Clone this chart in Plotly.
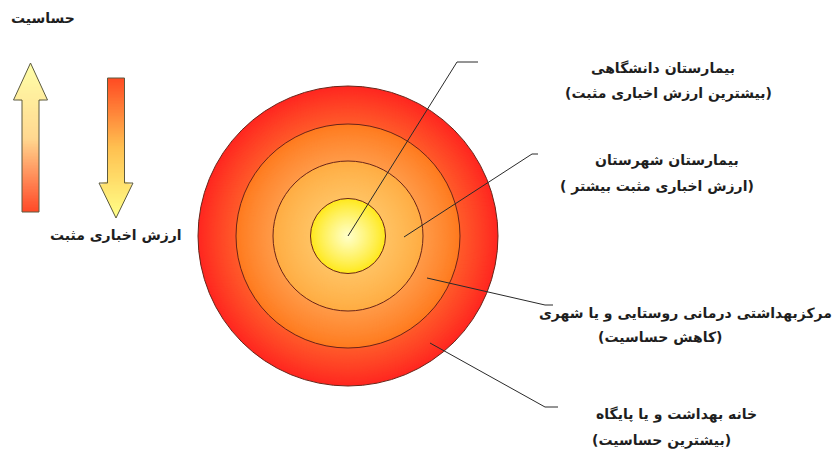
import plotly.graph_objects as go

# ---------------- data ----------------
ring_levels = ["خانه بهداشت و یا پایگاه", "مرکزبهداشتی درمانی روستایی و یا شهری",
               "بیمارستان شهرستان", "بیمارستان دانشگاهی"]
ring_titles = ["خانه بهداشت و یا پایگاه", "مرکزبهداشتی درمانی روستایی و یا شهری",
               "بیمارستان شهرستان", "بیمارستان دانشگاهی"]
ring_subtitles = ["(بیشترین حساسیت)", "(کاهش حساسیت)",
                  "(ارزش اخباری مثبت بیشتر )", "(بیشترین ارزش اخباری مثبت)"]
arrow_labels = ["حساسیت", "ارزش اخباری مثبت"]

# ---------------- geometry / style ----------------
W, H = 833, 450
cx, cy = 348, 236
ring_r = [150, 112, 75, 37.5]
ring_edge = ["#FF2620", "#FF7A1E", "#FFAC42", "#FFE81C"]
ring_inner = ["#FF5A2A", "#FF9A48", "#FFC262", "#FFFFC8"]
ring_line = "#6A2418"

title_pos = [(676, 414), (685, 313), (667, 160), (663, 68)]
sub_pos = [(661, 440), (660, 337), (657, 186), (668, 93)]
leader = [
    [(430, 343), (545, 407), (558, 407)],
    [(427, 278), (545, 305), (553, 305)],
    [(404, 237), (532, 154), (538, 154)],
    [(348, 236), (457, 62), (478, 62)],
]


def hex2rgb(h):
    h = h.lstrip("#")
    return tuple(int(h[i:i + 2], 16) for i in (0, 2, 4))


def mix(c1, c2, t):
    a, b = hex2rgb(c1), hex2rgb(c2)
    return "rgb(%d,%d,%d)" % tuple(round(a[i] + (b[i] - a[i]) * t) for i in range(3))


shapes = []

# gradient rings
for i, R in enumerate(ring_r):
    r_in = ring_r[i + 1] if i + 1 < len(ring_r) else 0
    n = 40
    for k in range(n):
        t = k / (n - 1)
        r = R - (R - r_in) * k / n
        shapes.append(dict(type="circle", xref="x", yref="y",
                           x0=cx - r, x1=cx + r, y0=cy - r, y1=cy + r,
                           fillcolor=mix(ring_edge[i], ring_inner[i], t ** 0.9),
                           line=dict(width=0), layer="above"))
for R in ring_r:
    shapes.append(dict(type="circle", xref="x", yref="y",
                       x0=cx - R, x1=cx + R, y0=cy - R, y1=cy + R,
                       fillcolor="rgba(0,0,0,0)",
                       line=dict(color=ring_line, width=1), layer="above"))


# gradient arrows
def arrow(xc, shaft_half, head_half, y_tip, y_head, y_end, c_tip, c_mid, c_end):
    d = 1 if y_end > y_tip else -1
    total = abs(y_end - y_tip)
    step = 1.5
    n = int(total / step) + 1
    for k in range(n):
        ya = y_tip + d * k * step
        yb = min(ya + d * (step + 0.6), y_end) if d > 0 else max(ya + d * (step + 0.6), y_end)

        def half(y):
            if abs(y - y_tip) <= abs(y_head - y_tip):
                return head_half * abs(y - y_tip) / abs(y_head - y_tip)
            return shaft_half
        t = k / max(n - 1, 1)
        col = mix(c_tip, c_mid, t / 0.5) if t < 0.5 else mix(c_mid, c_end, (t - 0.5) / 0.5)
        ha, hb = half(ya), half(yb)
        path = "M %.2f %.2f L %.2f %.2f L %.2f %.2f L %.2f %.2f Z" % (
            xc - ha, ya, xc + ha, ya, xc + hb, yb, xc - hb, yb)
        shapes.append(dict(type="path", xref="x", yref="y", path=path,
                           fillcolor=col, line=dict(width=0), layer="above"))
    outline = "M %.2f %.2f L %.2f %.2f L %.2f %.2f L %.2f %.2f L %.2f %.2f L %.2f %.2f L %.2f %.2f Z" % (
        xc, y_tip, xc + head_half, y_head, xc + shaft_half, y_head, xc + shaft_half, y_end,
        xc - shaft_half, y_end, xc - shaft_half, y_head, xc - head_half, y_head)
    shapes.append(dict(type="path", xref="x", yref="y", path=outline,
                       fillcolor="rgba(0,0,0,0)", line=dict(color="#5C5A40", width=1),
                       layer="above"))


# up arrow (yellow tip -> red bottom)
arrow(30.5, 8.5, 17, 63, 100, 212, "#FFFFA8", "#FFD890", "#FF4826")
# down arrow (yellow tip at bottom, red top)
arrow(116, 8.5, 17, 218, 183, 78, "#FFFF88", "#FFC050", "#FF4A22")

# leader lines
for pts in leader:
    p = "M %.1f %.1f" % pts[0] + "".join(" L %.1f %.1f" % q for q in pts[1:])
    shapes.append(dict(type="path", xref="x", yref="y", path=p,
                       line=dict(color="#2A2A2A", width=1), layer="above"))

RLM = "\u200F"
annotations = []
font = dict(family="DejaVu Sans", size=14, color="#1E1E1E")
for i in range(len(ring_levels)):
    annotations.append(dict(x=title_pos[i][0], y=title_pos[i][1], xref="x", yref="y",
                            text="<b>" + RLM + ring_titles[i] + RLM + "</b>",
                            showarrow=False, font=font, xanchor="center", yanchor="middle"))
    annotations.append(dict(x=sub_pos[i][0], y=sub_pos[i][1], xref="x", yref="y",
                            text="<b>" + RLM + ring_subtitles[i] + RLM + "</b>",
                            showarrow=False, font=font, xanchor="center", yanchor="middle"))
annotations.append(dict(x=43, y=18, xref="x", yref="y", text="<b>" + arrow_labels[0] + "</b>",
                        showarrow=False, font=font, xanchor="center", yanchor="middle"))
annotations.append(dict(x=116, y=235, xref="x", yref="y", text="<b>" + arrow_labels[1] + "</b>",
                        showarrow=False, font=font, xanchor="center", yanchor="middle"))

fig = go.Figure()
fig.add_trace(go.Scatter(x=[0, W], y=[0, H], mode="markers",
                         marker=dict(opacity=0), hoverinfo="skip", showlegend=False))
fig.update_layout(
    width=W, height=H, margin=dict(l=0, r=0, t=0, b=0),
    paper_bgcolor="white", plot_bgcolor="white",
    xaxis=dict(range=[0, W], visible=False, fixedrange=True),
    yaxis=dict(range=[H, 0], visible=False, fixedrange=True),
    shapes=shapes, annotations=annotations, showlegend=False,
)
fig.write_html("out.html", config=dict(displayModeBar=False),
               post_script="document.body.style.margin='0px';document.body.style.overflow='hidden';")
